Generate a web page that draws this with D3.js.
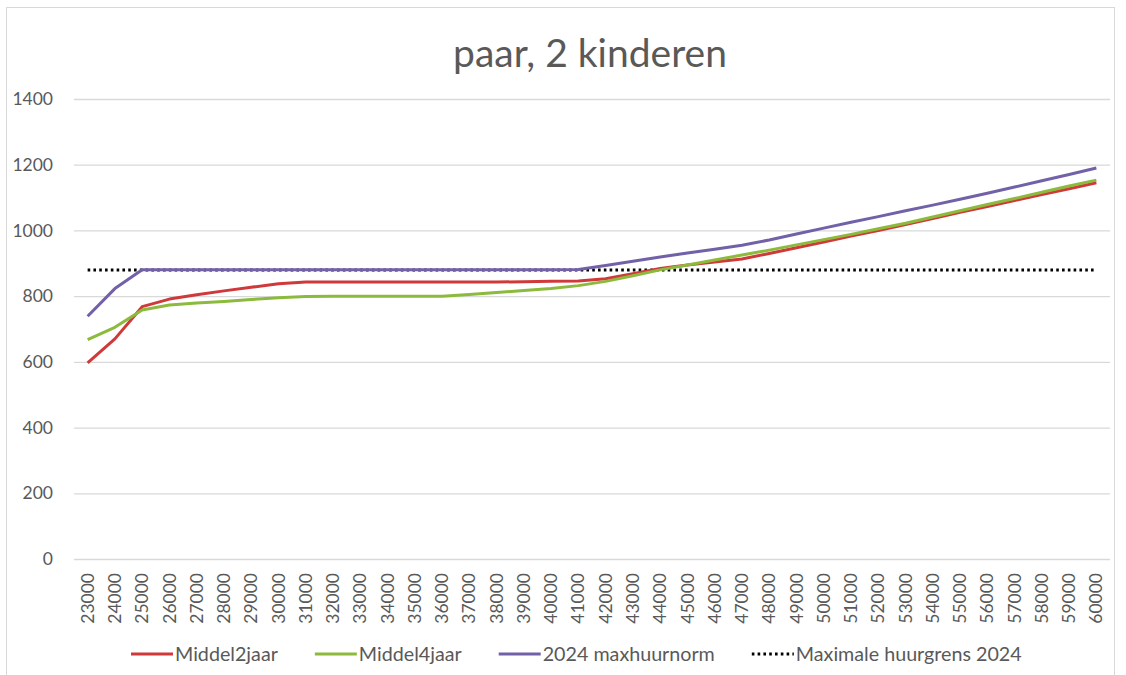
<!DOCTYPE html>
<html>
<head>
<meta charset="utf-8">
<script src="https://cdn.jsdelivr.net/npm/d3@7"></script>
<style>
  body { margin: 0; background: #fff; }
  #chart { width: 1126px; height: 675px; }
  text { font-family: Lato, "Open Sans", sans-serif; fill: #595959; }
</style>
</head>
<body>
<div id="chart"></div>
<script>

// DATA
const incomes = [23000,24000,25000,26000,27000,28000,29000,30000,31000,32000,33000,34000,35000,36000,37000,38000,39000,40000,41000,42000,
                 43000,44000,45000,46000,47000,48000,49000,50000,51000,52000,53000,54000,55000,56000,57000,58000,59000,60000];

const middel2jaar = [597,670,768,791,804,816,827,838,843,843,843,843,843,843,843,843,844,845,846,853,
                     868,884,895,904,913,930,947,965,983,1000,1018,1036,1055,1073,1091,1109,1127,1145];

const middel4jaar = [668,705,758,773,779,784,790,795,799,800,800,800,800,800,805,811,817,823,832,845,
                     862,880,895,910,925,940,956,972,988,1005,1022,1041,1060,1079,1097,1116,1135,1153];

const maxhuurnorm = [739,823,880,880,880,880,880,880,880,880,880,880,880,880,880,880,880,880,881,893,
                     906,919,931,943,955,971,989,1007,1025,1042,1060,1077,1095,1113,1132,1151,1170,1190];

const huurgrens = 879.66;

const yTicks = [0,200,400,600,800,1000,1200,1400];

const seriesNames = ["Middel2jaar", "Middel4jaar", "2024 maxhuurnorm", "Maximale huurgrens 2024"];


// SVG
const width = 1126;
const height = 675;

const svg = d3.select("#chart")
    .append("svg")
    .attr("width", width)
    .attr("height", height);

// outer chart border
svg.append("rect")
    .attr("x", 6.5)
    .attr("y", 7.5)
    .attr("width", 1108)
    .attr("height", 672)
    .attr("fill", "none")
    .attr("stroke", "#d9d9d9");

const margin = { top: 99, left: 74, right: 16, bottom: 116 };

// SCALES
const xScale = d3.scaleBand()
    .domain(incomes)
    .range([margin.left, width - margin.right])
    .padding(0);

const xPos = d => xScale(d) + xScale.bandwidth() / 2;

const yScale = d3.scaleLinear()
    .domain([0, 1400])
    .range([height - margin.bottom, margin.top]);

// GRIDLINES + Y AXIS
const yAxis = svg.append("g")
    .attr("transform", `translate(${margin.left},0)`)
    .call(d3.axisLeft(yScale)
        .tickValues(yTicks)
        .tickSize(-(width - margin.left - margin.right))
        .tickPadding(21)
        .tickFormat(d3.format("d")));

yAxis.select(".domain").remove();
yAxis.selectAll("line").attr("stroke", "#d9d9d9").attr("stroke-width", 1.3);
yAxis.selectAll("text")
    .style("font-size", "17.5px")
    .style("font-family", "Lato, sans-serif")
    .attr("fill", "#595959");

// X AXIS
const xAxis = svg.append("g")
    .attr("transform", `translate(0,${height - margin.bottom})`)
    .call(d3.axisBottom(xScale).tickSize(0).tickPadding(0));

xAxis.select(".domain").remove();
xAxis.selectAll("text")
    .attr("transform", "rotate(-90)")
    .attr("text-anchor", "end")
    .attr("x", -14)
    .attr("y", 0)
    .attr("dy", "0.35em")
    .style("font-size", "17.5px")
    .style("font-family", "Lato, sans-serif")
    .attr("fill", "#595959");

// LINES
const line = d3.line()
    .x((d, i) => xPos(incomes[i]))
    .y(d => yScale(d));

const colors = ["#d0393a", "#8cba3d", "#7261a8"];
const seriesData = [middel2jaar, middel4jaar, maxhuurnorm];

svg.append("path")
    .datum(incomes.map(() => huurgrens))
    .attr("d", line)
    .attr("fill", "none")
    .attr("stroke", "#000")
    .attr("stroke-width", 3)
    .attr("stroke-dasharray", "2.6,3.2");

seriesData.forEach(function(s, i) {
    svg.append("path")
        .datum(s)
        .attr("d", line)
        .attr("fill", "none")
        .attr("stroke", colors[i])
        .attr("stroke-width", 3)
        .attr("stroke-linejoin", "round");
});

// TITLE
svg.append("text")
    .attr("x", 590)
    .attr("y", 67)
    .attr("text-anchor", "middle")
    .style("font-size", "39px")
    .text("paar, 2 kinderen");

// LEGEND
const legend = svg.append("g").attr("transform", "translate(0,654)");
let cursor = 131;

seriesNames.forEach(function(name, i) {
    const g = legend.append("g").attr("transform", `translate(${cursor},0)`);
    const ln = g.append("line")
        .attr("x1", 0).attr("x2", 42)
        .attr("y1", 0).attr("y2", 0)
        .attr("stroke-width", 3);
    if (i < 3) {
        ln.attr("stroke", colors[i]);
    } else {
        ln.attr("stroke", "#000").attr("stroke-dasharray", "2.6,3.2");
    }
    const t = g.append("text")
        .attr("x", 44)
        .attr("y", 0)
        .attr("dy", "0.35em")
        .style("font-size", "19.7px")
        .text(name);
    cursor += 44 + t.node().getComputedTextLength() + 37;
});

</script>
</body>
</html>
